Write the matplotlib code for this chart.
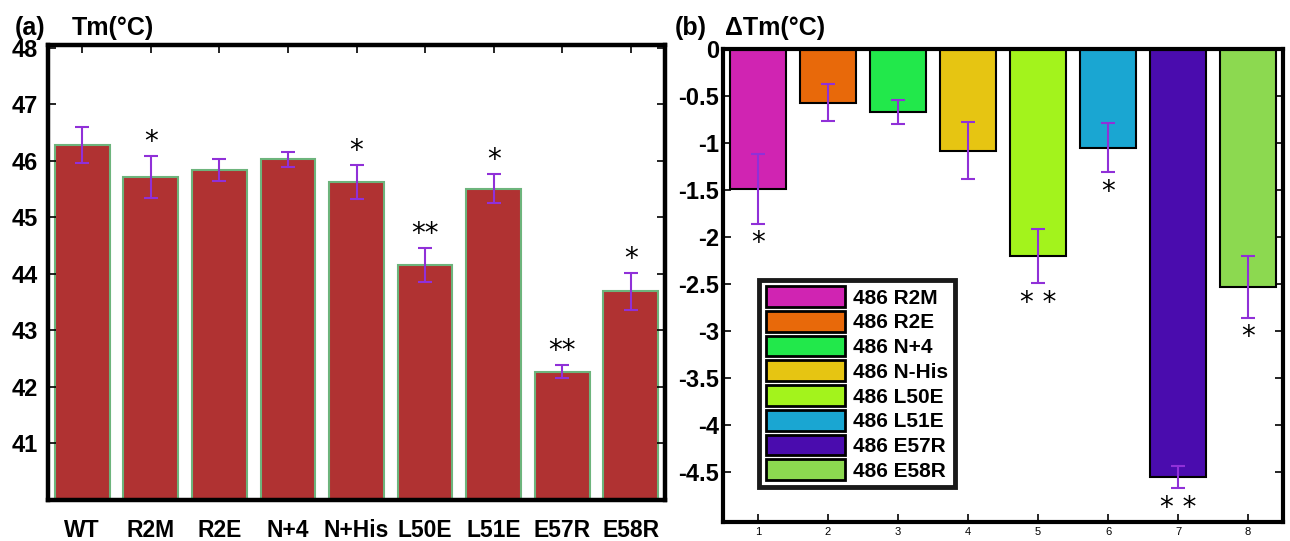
import numpy as np
import matplotlib
matplotlib.use("Agg")
from matplotlib import pyplot as plt
from matplotlib.patches import Patch

plt.rcParams['font.family'] = ['Liberation Sans Narrow', 'Liberation Sans', 'DejaVu Sans']

## panel (a): Tm of each construct
tm_labels = ['WT', 'R2M', 'R2E', 'N+4', 'N+His', 'L50E', 'L51E', 'E57R', 'E58R']
tm_values = [46.28, 45.71, 45.84, 46.03, 45.63, 44.16, 45.51, 42.27, 43.69]
tm_errors = [0.32, 0.37, 0.20, 0.13, 0.30, 0.30, 0.26, 0.12, 0.33]
tm_stars = ['', '*', '', '', '*', '**', '*', '**', '*']

## panel (b): delta Tm
dtm_names = ['486 R2M', '486 R2E', '486 N+4', '486 N-His', '486 L50E', '486 L51E', '486 E57R', '486 E58R']
dtm_values = [-1.49, -0.57, -0.67, -1.08, -2.20, -1.05, -4.55, -2.53]
dtm_errors = [0.37, 0.20, 0.13, 0.30, 0.29, 0.26, 0.12, 0.33]
dtm_stars = ['*', '', '', '', '* *', '*', '* *', '*']
dtm_colors = ['#D024B2', '#E8690A', '#22E84B', '#E6C512', '#A3F31C', '#1AA6D2', '#4A0CAE', '#8CD950']

err_color = '#9030D8'

fig = plt.figure(figsize=(12.9, 5.41), dpi=100)

# ---- left panel
ax1 = fig.add_axes([48/1290, 1 - 500/541, (665-48)/1290, (500-45)/541])
x1 = np.arange(len(tm_labels))
ax1.bar(x1, tm_values, width=0.8, color='#B03232', edgecolor='#6DB47C', linewidth=1.5)
ax1.errorbar(x1, tm_values, yerr=tm_errors, fmt='none', ecolor=err_color,
             elinewidth=1.5, capsize=5, capthick=1.5)
for xi, v, e, s in zip(x1, tm_values, tm_errors, tm_stars):
    if s:
        ax1.annotate(s, (xi, v + e), xytext=(0, 0), textcoords='offset points',
                     ha='center', va='bottom', fontsize=20, family='DejaVu Sans')
ax1.set_ylim(40, 48.05)
ax1.set_xlim(-0.5, 8.5)
ax1.set_yticks([41, 42, 43, 44, 45, 46, 47, 48])
ax1.set_xticks(x1)
ax1.set_xticklabels(tm_labels, fontsize=16.5, fontweight='bold')
ax1.tick_params(axis='y', labelsize=17, direction='in', right=True, length=6, width=1.2, pad=7)
ax1.tick_params(axis='x', direction='in', top=True, bottom=False, length=6, width=1.2, pad=14)
for lbl in ax1.get_yticklabels():
    lbl.set_fontweight('bold')
for sp in ax1.spines.values():
    sp.set_linewidth(3.2)

# ---- right panel
ax2 = fig.add_axes([723/1290, 1 - 522/541, (1283-723)/1290, (522-49)/541])
x2 = np.arange(1, len(dtm_values) + 1)
ax2.bar(x2, dtm_values, width=0.8, color=dtm_colors, edgecolor='black', linewidth=1.5)
ax2.errorbar(x2, dtm_values, yerr=dtm_errors, fmt='none', ecolor=err_color,
             elinewidth=1.5, capsize=5, capthick=1.5)
for xi, v, e, s in zip(x2, dtm_values, dtm_errors, dtm_stars):
    if s:
        ax2.annotate(s, (xi, v - e), xytext=(0, -4), textcoords='offset points',
                     ha='center', va='top', fontsize=20, family='DejaVu Sans')
ax2.set_ylim(-5.03, 0)
ax2.set_xlim(0.5, 8.5)
ax2.set_yticks([0, -0.5, -1, -1.5, -2, -2.5, -3, -3.5, -4, -4.5])
ax2.set_yticklabels(['0', '-0.5', '-1', '-1.5', '-2', '-2.5', '-3', '-3.5', '-4', '-4.5'])
ax2.set_xticks(x2)
ax2.tick_params(axis='y', labelsize=17, direction='in', right=True, length=6, width=1.2, pad=3)
ax2.tick_params(axis='x', labelsize=8, direction='in', length=6, width=1.2)
for lbl in ax2.get_yticklabels():
    lbl.set_fontweight('bold')
for sp in ax2.spines.values():
    sp.set_linewidth(3)

handles = [Patch(facecolor=c, edgecolor='black', linewidth=2) for c in dtm_colors]
leg = ax2.legend(handles, dtm_names, loc='lower left', bbox_to_anchor=(0.065, 0.074),
                 prop={'size': 15, 'weight': 'bold'}, frameon=True, fancybox=False,
                 framealpha=1, handlelength=3.8, handleheight=1.15, labelspacing=0.16,
                 handletextpad=0.4, borderpad=0.3, borderaxespad=0)
leg.get_frame().set_edgecolor('#1a1a1a')
leg.get_frame().set_linewidth(3.5)

# panel titles
fig.text(15/1290, 1 - 28/541, '(a)', fontsize=18, fontweight='bold', va='center')
fig.text(72/1290, 1 - 28/541, 'Tm(°C)', fontsize=18, fontweight='bold', va='center')
fig.text(675/1290, 1 - 28/541, '(b)', fontsize=18, fontweight='bold', va='center')
fig.text(725/1290, 1 - 28/541, 'ΔTm(°C)', fontsize=18, fontweight='bold', va='center')

fig.savefig('out.png', dpi=100)
